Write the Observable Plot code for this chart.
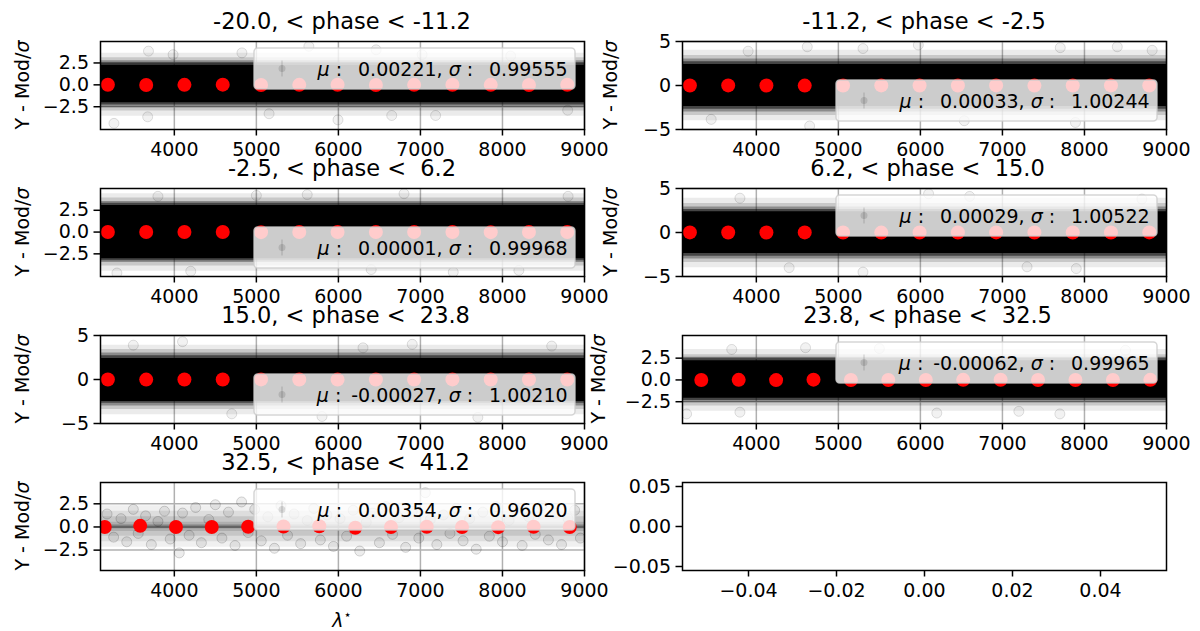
<!DOCTYPE html>
<html><head><meta charset="utf-8">
<script src="https://cdn.jsdelivr.net/npm/d3@7"></script>
<script src="https://cdn.jsdelivr.net/npm/@observablehq/plot@0.6"></script>
<style>
html,body{margin:0;padding:0;background:#fff;}
#fig{position:relative;width:1200px;height:631px;overflow:hidden;background:#fff;}
#fig svg{position:absolute;left:0;top:0;}
</style></head><body><div id="fig"></div>
<script>
// ---------------- data ----------------
const panelTitles = [
  "-20.0, < phase < -11.2",
  "-11.2, < phase < -2.5",
  "-2.5, < phase <  6.2",
  " 6.2, < phase <  15.0",
  " 15.0, < phase <  23.8",
  " 23.8, < phase <  32.5",
  " 32.5, < phase <  41.2"
];
const muValues    = [0.00221, 0.00033, 0.00001, 0.00029, -0.00027, -0.00062, 0.00354];
const sigmaValues = [0.99555, 1.00244, 0.99968, 1.00522, 1.00210, 0.99965, 0.96020];

const lambdaRange = [3100, 9000];
const xTicksLambda = [4000, 5000, 6000, 7000, 8000, 9000];
const yTicksA = [-2.5, 0, 2.5];
const yTicksB = [-5, 0, 5];
const yTickSets = ["A", "B", "A", "B", "B", "A", "A"];
const yDomains = [[-5.1, 4.95], [-5, 5], [-5.1, 5.0], [-5, 5], [-5, 5], [-5, 5.1], [-4.7, 4.8]];

const binCentersA = [3190, 3657, 4123, 4590, 5057, 5523, 5990, 6457, 6923, 7390, 7857, 8323, 8790];
const binCentersB = [3329, 3785, 4241, 4697, 5153, 5609, 6066, 6522, 6978, 7434, 7890, 8347, 8803];
const binCentersC = [3152, 3584, 4020, 4456, 4900, 5331, 5767, 6206, 6641, 7077, 7507, 7948, 8380, 8820];

const binMeans1 = [0.01, -0.01, 0.00, 0.02, -0.01, 0.00, 0.01, -0.02, 0.00, 0.01, 0.00, -0.01, 0.01];
const binMeans2 = [0.00, 0.01, 0.00, -0.01, 0.00, 0.01, 0.00, 0.00, 0.01, -0.01, 0.00, 0.01, 0.00];
const binMeans3 = [0.00, 0.00, 0.01, 0.00, -0.01, 0.00, 0.00, 0.01, 0.00, 0.00, -0.01, 0.00, 0.00];
const binMeans4 = [0.01, 0.00, 0.00, 0.01, 0.00, -0.01, 0.00, 0.00, 0.01, 0.00, 0.00, 0.00, 0.01];
const binMeans5 = [0.00, -0.01, 0.00, 0.00, 0.01, 0.00, -0.01, 0.00, 0.00, 0.01, 0.00, 0.00, -0.01];
const binMeans6 = [0.00, 0.01, -0.02, 0.03, 0.00, -0.01, 0.00, 0.01, 0.02, 0.00, -0.01, 0.00, 0.01];
const binMeans7 = [0.00, 0.12, 0.00, 0.00, 0.02, 0.05, 0.08, -0.08, 0.00, 0.02, 0.00, -0.02, 0.02, 0.00];

// extent of the residual cloud, from faint halo (first) to dense core (last), [low, high] per panel
const cloud1 = [[-3.6, 3.6], [-3.0, 3.1], [-2.6, 2.75], [-2.3, 2.5], [-2.05, 2.25]];
const cloud2 = [[-4.0, 4.0], [-3.4, 3.4], [-3.0, 3.0], [-2.7, 2.7], [-2.4, 2.4]];
const cloud3 = [[-4.5, 4.4], [-3.9, 3.9], [-3.5, 3.5], [-3.3, 3.3], [-3.05, 3.05]];
const cloud4 = [[-4.0, 3.9], [-3.4, 3.3], [-3.0, 2.9], [-2.7, 2.6], [-2.4, 2.35]];
const cloud5 = [[-4.0, 3.9], [-3.4, 3.4], [-3.0, 3.0], [-2.7, 2.7], [-2.5, 2.4]];
const cloud6 = [[-3.6, 3.5], [-3.0, 2.9], [-2.6, 2.6], [-2.35, 2.4], [-2.1, 2.2]];
const cloud7 = [[-2.2, 2.3], [-1.6, 1.7], [-1.0, 1.1], [-0.5, 0.5], [-0.2, 0.2]];
const cloudOpacityDense  = [0.08, 0.15, 0.3, 0.5, 1];
const cloudOpacitySparse = [0.06, 0.08, 0.1, 0.12, 0.25];

// visible stray points (x = lambda, y = residual)
const stray1 = [[3685,3.85],[3264,-4.4],[3675,-3.65],[4824,3.65],[5640,4.4],[5995,-4.0],[6650,-3.5],[7185,-3.5],[8100,3.3],[7020,3.45],[3985,3.45],[5155,-3.3],[8795,-2.9],[6460,4.0]];
const stray2 = [[4621,4.4],[5975,4.6],[8400,4.4],[8825,4.0],[7705,4.3],[4650,-4.6],[7890,-4.2],[3450,-3.85],[6535,-4.0],[5300,4.2],[3900,3.9]];
const stray3 = [[5620,4.3],[3300,-4.7],[8800,4.1],[4200,-4.5],[6800,4.4],[7400,-4.6],[5000,4.2],[8200,-4.4],[6400,-4.3],[3800,4.1]];
const stray4 = [[3800,3.9],[5300,-4.5],[6600,4.1],[7900,-4.1],[8700,3.8],[4400,-4.0],[6100,4.4],[7300,-3.9]];
const stray5 = [[3500,3.9],[4100,4.3],[5800,-4.2],[6900,4.0],[7700,-4.3],[8600,3.8],[4700,-3.9],[6300,3.6]];
const stray6 = [[3700,3.5],[4600,3.7],[6200,-3.8],[3800,-3.7],[7200,-3.6],[8500,3.4],[5500,3.6],[7700,-3.9],[3150,-3.9]];
const stray7 = [[3180,1.4],[3260,-1.1],[3350,0.9],[3420,-1.6],[3500,1.9],[3560,-0.7],[3650,1.2],[3720,-1.9],[3800,0.6],[3880,1.7],[3950,-1.3],[4060,-2.8],[4100,1.5],[4180,-0.9],[4260,2.1],[4330,-1.7],[4420,0.8],[4500,2.4],[4580,-1.2],[4660,1.6],[4740,-2.0],[4820,2.7],[4900,-0.6],[4980,1.9],[5060,-1.5],[5140,1.1],[5220,-2.3],[5300,2.3],[5380,-0.9],[5460,1.4],[5540,-1.8],[5620,0.7],[5700,2.0],[5780,-1.4],[5860,1.3],[5940,-2.1],[6020,0.9],[6100,-1.0],[6180,1.8],[6260,-2.6],[6340,0.5],[6420,1.5],[6500,-1.7],[6580,2.2],[6660,-0.8],[6740,1.0],[6820,-2.2],[6900,1.7],[6980,-1.2],[7060,3.7],[7120,0.8],[7200,-1.9],[7280,1.3],[7360,-0.7],[7440,2.0],[7520,-1.5],[7600,0.9],[7680,-2.4],[7760,1.6],[7840,-1.0],[7920,2.2],[8000,-1.6],[8080,0.7],[8160,1.9],[8240,-2.0],[8320,1.1],[8400,-0.8],[8480,2.3],[8560,-1.4],[8640,1.5],[8720,-1.9],[8800,0.9],[8880,1.8],[8950,-1.2]];

const emptyTicksX = [-0.04, -0.02, 0, 0.02, 0.04];
const emptyTicksY = [-0.05, 0, 0.05];
const emptyDomain = [-0.055, 0.055];

// ---------------- layout ----------------
const W = 1200, H = 631;
const colLeft = [100, 682], colRight = [584, 1166];
const rowTop = [41, 188, 335, 482];
const frameH = 88;
const legendLoc = ["upper", "lower", "lower", "upper", "lower", "upper", "upper"];
const FONT = "'DejaVu Sans', sans-serif";
const FS = 19;

const binCenters = [binCentersA, binCentersA, binCentersA, binCentersA, binCentersA, binCentersB, binCentersC];
const binMeans = [binMeans1, binMeans2, binMeans3, binMeans4, binMeans5, binMeans6, binMeans7];
const strays = [stray1, stray2, stray3, stray4, stray5, stray6, stray7];
const clouds = [cloud1, cloud2, cloud3, cloud4, cloud5, cloud6, cloud7];

const fig = document.getElementById("fig");
const svgStyle = {background: "transparent", fontFamily: FONT, fontSize: FS + "px", overflow: "visible", color: "black"};

function fmtSigned(v) { return (v < 0 ? "-" : " ") + Math.abs(v).toFixed(5); }

function customMark(build) {
  return function () {
    const g = d3.create("svg:g");
    build(g);
    return g.node();
  };
}

function axesFor(xTicks, xFmt, yTicks, yFmt) {
  return [
    Plot.axisX(xTicks, {tickFormat: xFmt, tickSize: 6.5, tickPadding: 6, strokeWidth: 1.5, label: null, fontSize: FS}),
    Plot.axisY(yTicks, {tickFormat: yFmt, tickSize: 6.5, tickPadding: 5, strokeWidth: 1.5, label: null, fontSize: FS})
  ];
}

function drawPanel(i) {
  const col = i % 2, row = Math.floor(i / 2);
  const fl = colLeft[col], fr = colRight[col], ft = rowTop[row], fb = ft + frameH;
  const isA = yTickSets[i] === "A";
  const yTicks = isA ? yTicksA : yTicksB;
  const yFmt = isA ? ".1f" : "d";
  const sparse = i === 6;
  const bins = binCenters[i].map((x, j) => ({x, y: binMeans[i][j]}));
  const strayData = strays[i].map(([x, y]) => ({x, y}));
  const opac = sparse ? cloudOpacitySparse : cloudOpacityDense;
  const cloudMarks = clouds[i].map(([lo, hi], k) =>
    Plot.areaY(lambdaRange.map(x => ({x, lo, hi})), {x: "x", y1: "lo", y2: "hi", fill: "black", fillOpacity: opac[k]}));

  const legendW = 321, legendH = 41;
  const lx = fr - 9 - legendW;
  const ly = legendLoc[i] === "upper" ? ft + 7 : fb - 8 - legendH;

  return Plot.plot({
    width: W, height: H,
    marginLeft: fl, marginRight: W - fr, marginTop: ft, marginBottom: H - fb,
    style: svgStyle,
    x: {domain: lambdaRange, label: null},
    y: {domain: yDomains[i], label: null},
    marks: [
      Plot.gridX(xTicksLambda, {stroke: "#b0b0b0", strokeOpacity: 1, strokeWidth: 1.5}),
      Plot.gridY(yTicks, {stroke: "#b0b0b0", strokeOpacity: 1, strokeWidth: 1.5}),
      ...cloudMarks,
      Plot.dot(strayData, {x: "x", y: "y", r: 5, fill: "black", fillOpacity: sparse ? 0.07 : 0.05, stroke: "black", strokeOpacity: sparse ? 0.16 : 0.12, strokeWidth: 1, clip: true}),
      Plot.dot(bins, {x: "x", y: "y", r: 7, fill: "#ff0000", stroke: "none", clip: true}),
      customMark(g => {
        g.append("rect").attr("x", lx).attr("y", ly).attr("width", legendW).attr("height", legendH)
          .attr("rx", 3.7).attr("fill", "white").attr("fill-opacity", 0.8)
          .attr("stroke", "#cccccc").attr("stroke-opacity", 0.8).attr("stroke-width", 1.5);
        const hx = lx + 28, hy = ly + legendH / 2;
        g.append("line").attr("x1", hx).attr("x2", hx).attr("y1", hy - 8).attr("y2", hy + 8)
          .attr("stroke", "#000").attr("stroke-opacity", 0.12).attr("stroke-width", 1.5);
        g.append("circle").attr("cx", hx).attr("cy", hy).attr("r", 3.5).attr("fill", "#000").attr("fill-opacity", 0.12);
        const t = g.append("text").attr("x", lx + legendW - 7.4).attr("y", hy)
          .attr("text-anchor", "end").attr("dominant-baseline", "central")
          .attr("font-size", FS).attr("fill", "black").style("white-space", "pre");
        t.append("tspan").attr("font-style", "italic").text("μ");
        t.append("tspan").text(" : \u2009" + fmtSigned(muValues[i]) + ", ");
        t.append("tspan").attr("font-style", "italic").text("σ");
        t.append("tspan").text(" : \u2009" + fmtSigned(sigmaValues[i]));
      }),
      Plot.frame({stroke: "black", strokeWidth: 1.5}),
      ...axesFor(xTicksLambda, "d", yTicks, yFmt),
      customMark(g => {
        g.append("text").attr("x", (fl + fr) / 2).attr("y", ft - 12)
          .attr("text-anchor", "middle").attr("font-size", 22.5).attr("fill", "black")
          .style("white-space", "pre").text(panelTitles[i]);
        const yoff = col === 0 ? 78 : (isA ? 84 : 72);
        const yl = g.append("text")
          .attr("transform", `translate(${fl - yoff},${(ft + fb) / 2}) rotate(-90)`)
          .attr("text-anchor", "middle").attr("dominant-baseline", "central")
          .attr("font-size", FS).attr("fill", "black").style("white-space", "pre");
        yl.append("tspan").text("Y - Mod/");
        yl.append("tspan").attr("font-style", "italic").text("σ");
        if (i === 6) {
          const xl = g.append("text").attr("x", (fl + fr) / 2).attr("y", 627)
            .attr("text-anchor", "middle").attr("font-size", FS).attr("fill", "black");
          xl.append("tspan").attr("font-style", "italic").text("λ");
          xl.append("tspan").attr("font-size", 13).attr("dy", -8).text("⋆");
        }
      })
    ]
  });
}

function drawEmpty() {
  const fl = colLeft[1], fr = colRight[1], ft = rowTop[3], fb = ft + frameH;
  return Plot.plot({
    width: W, height: H,
    marginLeft: fl, marginRight: W - fr, marginTop: ft, marginBottom: H - fb,
    style: svgStyle,
    x: {domain: emptyDomain, label: null},
    y: {domain: emptyDomain, label: null},
    marks: [
      Plot.frame({stroke: "black", strokeWidth: 1.5}),
      ...axesFor(emptyTicksX, ".2f", emptyTicksY, ".2f")
    ]
  });
}

for (let i = 0; i < 7; i++) fig.appendChild(drawPanel(i));
fig.appendChild(drawEmpty());
</script>
</body></html>
